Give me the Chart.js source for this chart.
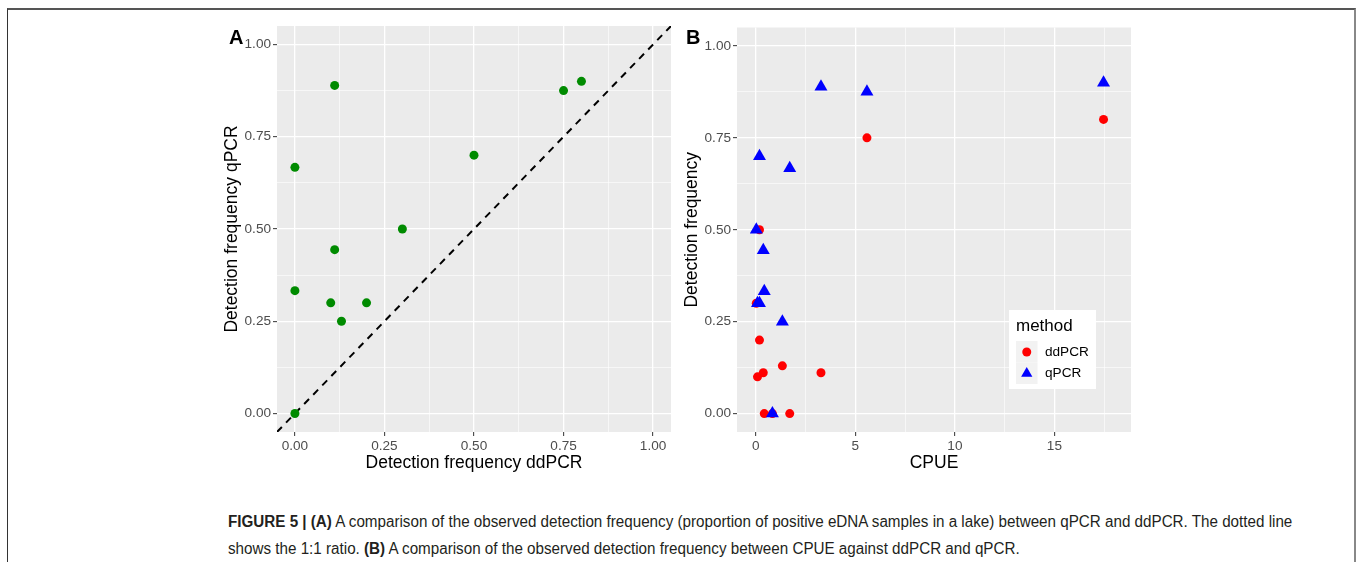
<!DOCTYPE html>
<html>
<head>
<meta charset="utf-8">
<script src="https://cdn.jsdelivr.net/npm/chart.js@4.4.0/dist/chart.umd.min.js"></script>
<style>
  body { margin: 0; width: 1359px; height: 562px; background: #fff; position: relative; overflow: hidden;
         font-family: "Liberation Sans", Arial, sans-serif; }
  .frame { position: absolute; left: 7px; top: 8px; width: 1346px; height: 600px;
           border-top: 2px solid #555; border-left: 1px solid #333; border-right: 2px solid #888; }
  .panel { position: absolute; top: 20px; width: 465px; height: 460px; }
  #panelA { left: 215px; }
  #panelB { left: 675px; }
  .tag { position: absolute; top: 26px; font-weight: bold; font-size: 20px; color: #000; }
  .caption { position: absolute; left: 228px; top: 508px; font-size: 16px; line-height: 27px;
             color: #231f20; white-space: nowrap; transform: scaleX(0.95); transform-origin: 0 0; }
</style>
</head>
<body>
<div class="frame"></div>
<div class="panel" id="panelA"><canvas id="chartA"></canvas></div>
<div class="panel" id="panelB"><canvas id="chartB"></canvas></div>
<div class="tag" style="left:229px">A</div>
<div class="tag" style="left:686px">B</div>
<div class="caption"><b>FIGURE 5 | (A)</b> A comparison of the observed detection frequency (proportion of positive eDNA samples in a lake) between qPCR and ddPCR. The dotted line<br>shows the 1:1 ratio. <b>(B)</b> A comparison of the observed detection frequency between CPUE against ddPCR and qPCR.</div>

<script>
// one entry per lake
const ddpcrFreq = [0.111, 0.75, 0.8, 0.5, 0, 0.3, 0.111, 0, 0.1, 0.2, 0.13, 0];
const qpcrFreq  = [0.889, 0.875, 0.9, 0.7, 0.667, 0.5, 0.444, 0.333, 0.3, 0.3, 0.25, 0];
const cpue      = [3.27, 5.58, 17.47, 0.18, 1.7, 0.02, 0.37, 0.42, 0.08, 0.18, 1.33, 0.83];

// axes
const freqLimits = [-0.05, 1.05];
const cpueLimits = [-0.95, 18.85];
const freqTicks = [0, 0.25, 0.5, 0.75, 1];
const freqTickLabels = ['0.00', '0.25', '0.50', '0.75', '1.00'];
const freqMinor = [0.125, 0.375, 0.625, 0.875];
const cpueTicks = [0, 5, 10, 15];
const cpueTickLabels = ['0', '5', '10', '15'];
const cpueMinor = [2.5, 7.5, 12.5, 17.5];

const methods = ['ddPCR', 'qPCR'];

const FONT = '"Liberation Sans", Arial, sans-serif';

// grey panel background like ggplot
const panelBg = {
    id: 'panelBg',
    beforeDraw(chart) {
        const { ctx, chartArea: a } = chart;
        ctx.save();
        ctx.fillStyle = '#EBEBEB';
        ctx.fillRect(a.left, a.top, a.right - a.left, a.bottom - a.top);
        ctx.restore();
    }
};

// legend drawn inside the plot area
const insideLegend = {
    id: 'insideLegend',
    afterDraw(chart, args, opts) {
        if (!opts.show) return;
        const ctx = chart.ctx;
        const x = opts.x, y = opts.y;
        ctx.save();
        ctx.fillStyle = '#fff';
        ctx.fillRect(x, y, 87, 79);
        ctx.fillStyle = '#000';
        ctx.textBaseline = 'middle';
        ctx.font = '17px ' + FONT;
        ctx.fillText(opts.title, x + 7, y + 16);
        ctx.font = '13.6px ' + FONT;
        opts.labels.forEach((label, i) => {
            const ds = chart.data.datasets.find(d => d.label === label);
            const ky = y + 31 + i * 21.5;
            ctx.fillStyle = '#F2F2F2';
            ctx.fillRect(x + 7, ky, 21.5, 21.5);
            ctx.fillStyle = ds.backgroundColor;
            Chart.helpers.drawPoint(ctx, {
                pointStyle: ds.pointStyle,
                radius: ds.pointStyle === 'triangle' ? 6.5 : 4.5,
                borderWidth: 0, rotation: 0
            }, x + 17.75, ky + 11);
            ctx.fillStyle = '#000';
            ctx.fillText(label, x + 36, ky + 11);
        });
        ctx.restore();
    }
};

function gridScale(limits, major, minor, labels, title, isY) {
    const isMinor = v => minor.includes(v);
    return {
        type: 'linear',
        min: limits[0],
        max: limits[1],
        afterBuildTicks(scale) {
            scale.ticks = major.concat(minor).sort((a, b) => a - b).map(v => ({ value: v }));
        },
        afterFit(scale) {
            if (isY) scale.width = 62; else scale.height = 48;
            // labels sit well inside the panel, no extra room needed
            scale.paddingTop = 0;
            scale.paddingBottom = 0;
            scale.paddingLeft = 0;
            scale.paddingRight = 0;
        },
        ticks: {
            autoSkip: false,
            maxRotation: 0,
            padding: 2,
            color: '#4D4D4D',
            font: { family: FONT, size: 13.6 },
            callback: v => {
                const i = major.indexOf(v);
                return i >= 0 ? labels[i] : '';
            }
        },
        grid: {
            color: '#FFFFFF',
            lineWidth: c => (c.tick && isMinor(c.tick.value)) ? 0.6 : 1.3,
            tickColor: c => (c.tick && isMinor(c.tick.value)) ? 'rgba(0,0,0,0)' : '#333333',
            tickLength: 4,
            tickWidth: 1
        },
        border: { display: false },
        title: {
            display: true,
            text: title,
            color: '#000',
            font: { family: FONT, size: 17.5 },
            padding: isY ? { top: 7, bottom: 0 } : { top: 0, bottom: 6 }
        }
    };
}

function baseOptions(xScale, yScale, legendOpts) {
    return {
        responsive: true,
        maintainAspectRatio: false,
        animation: false,
        layout: { padding: { left: 0, right: 9, top: 6, bottom: 0 } },
        plugins: {
            legend: { display: false },
            tooltip: { enabled: false },
            insideLegend: legendOpts
        },
        scales: { x: xScale, y: yScale }
    };
}

// Panel A: qPCR vs ddPCR with the 1:1 line
new Chart(document.getElementById('chartA'), {
    type: 'scatter',
    data: {
        datasets: [{
            label: 'lakes',
            data: ddpcrFreq.map((d, i) => ({ x: d, y: qpcrFreq[i] })),
            backgroundColor: '#008B00',
            borderWidth: 0,
            pointRadius: 4.5,
            order: 0
        }, {
            type: 'line',
            label: '1:1',
            data: freqLimits.map(v => ({ x: v, y: v })),
            borderColor: '#000',
            borderWidth: 2,
            borderDash: [7, 6],
            pointRadius: 0,
            order: 1
        }]
    },
    options: baseOptions(
        gridScale(freqLimits, freqTicks, freqMinor, freqTickLabels, 'Detection frequency ddPCR', false),
        gridScale(freqLimits, freqTicks, freqMinor, freqTickLabels, 'Detection frequency qPCR', true),
        { show: false }
    ),
    plugins: [panelBg, insideLegend]
});

// Panel B: detection frequency vs CPUE
new Chart(document.getElementById('chartB'), {
    type: 'scatter',
    data: {
        datasets: [{
            label: methods[0],
            data: cpue.map((c, i) => ({ x: c, y: ddpcrFreq[i] })),
            backgroundColor: '#FF0000',
            borderWidth: 0,
            pointStyle: 'circle',
            pointRadius: 4.5,
            order: 1
        }, {
            label: methods[1],
            data: cpue.map((c, i) => ({ x: c, y: qpcrFreq[i] })),
            backgroundColor: '#0000FF',
            borderWidth: 0,
            pointStyle: 'triangle',
            pointRadius: 7.5,
            order: 0
        }]
    },
    options: baseOptions(
        gridScale(cpueLimits, cpueTicks, cpueMinor, cpueTickLabels, 'CPUE', false),
        gridScale(freqLimits, freqTicks, freqMinor, freqTickLabels, 'Detection frequency', true),
        { show: true, title: 'method', labels: methods, x: 334, y: 290 }
    ),
    plugins: [panelBg, insideLegend]
});
</script>
</body>
</html>
